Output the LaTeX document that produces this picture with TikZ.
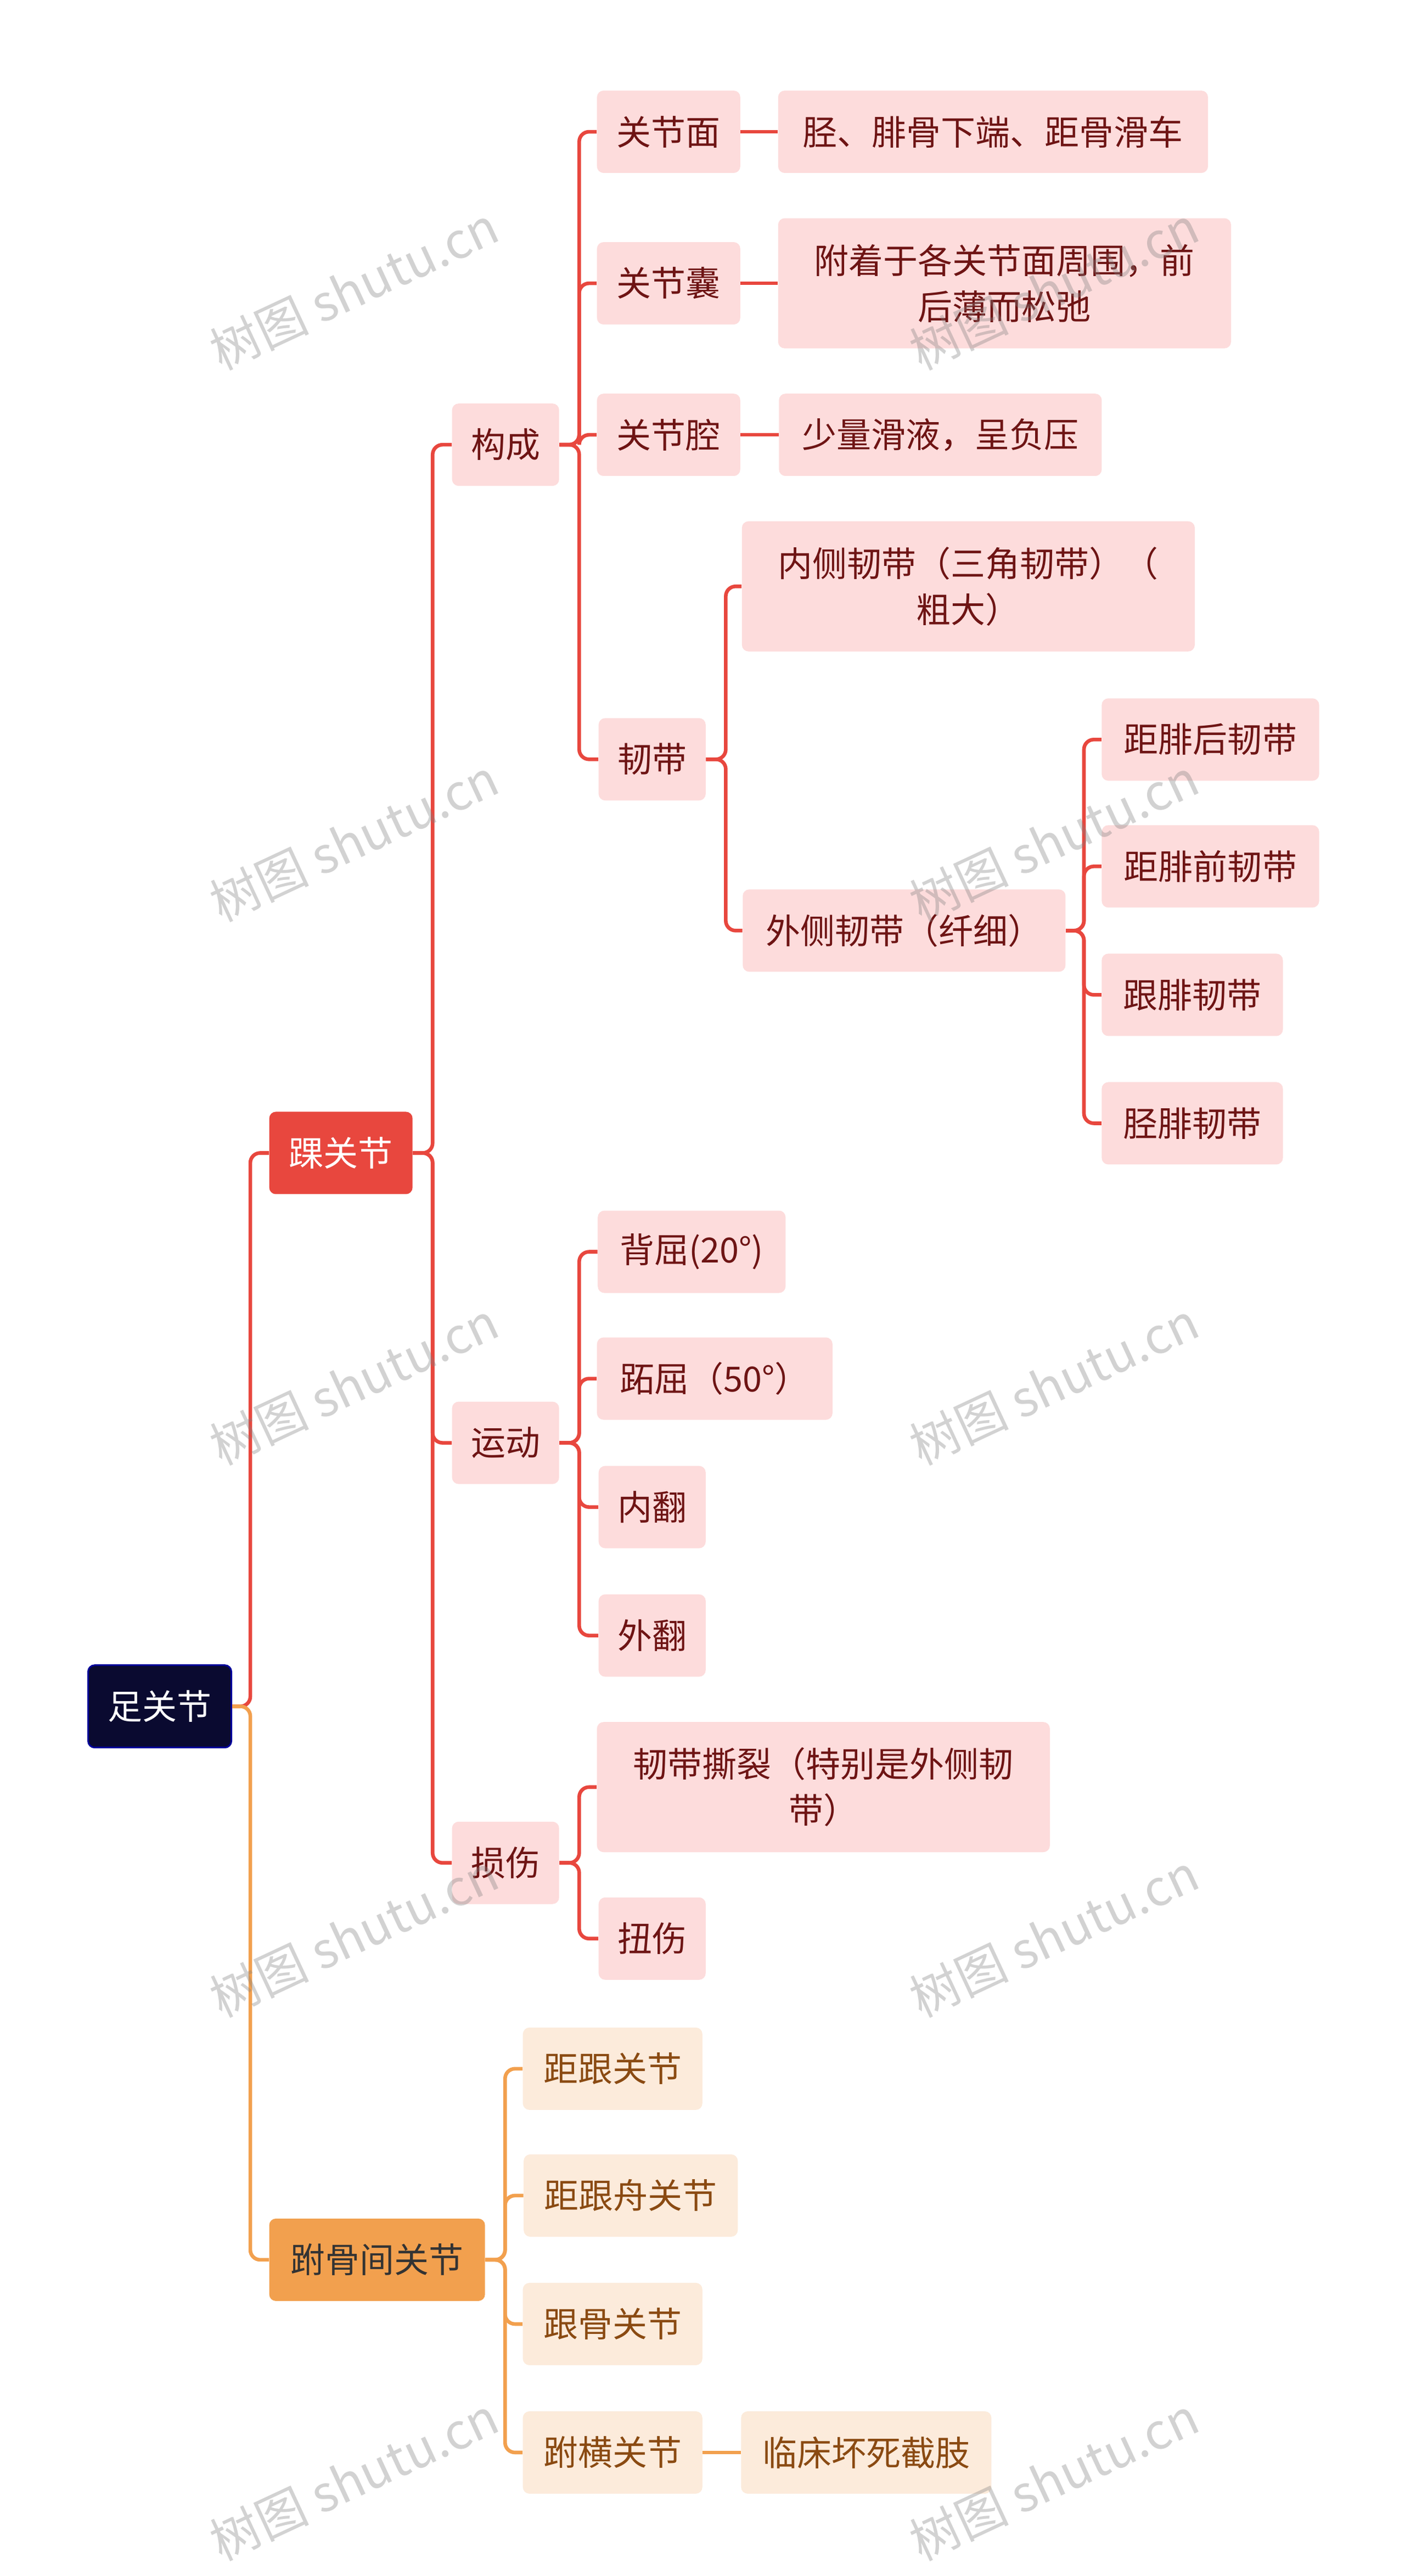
\documentclass[tikz,border=0pt]{standalone}
\usepackage{fontspec}
\setmainfont{Noto Sans CJK SC}
\begin{document}
\begin{tikzpicture}[x=1pt,y=-1pt,
 bx/.style={rounded corners=4pt,minimum height=50pt,inner sep=0pt,font=\fontsize{21}{28}\selectfont,align=center},
 lv/.style={bx,fill=pinkf,text=redt},
 lo/.style={bx,fill=orgf,text=brownt},
 rl/.style={draw=redl,line width=2.2pt,rounded corners=6pt},
 ol/.style={draw=orgl,line width=2.2pt,rounded corners=6pt},
 wm/.style={text=gray,text opacity=0.35,rotate=25,font=\fontsize{30}{30}\selectfont}]
\definecolor{pinkf}{HTML}{FDDCDC}\definecolor{redt}{HTML}{6E1414}
\definecolor{orgf}{HTML}{FCEBDB}\definecolor{brownt}{HTML}{8A4A12}
\definecolor{redl}{HTML}{E8473E}\definecolor{orgl}{HTML}{F2A04E}
\definecolor{navy}{HTML}{0A0A30}
\useasboundingbox[fill=white] (0,0) rectangle (853,1564);
\node[bx,fill=navy,draw=blue!60!black,line width=1pt,minimum width=87pt,text=white] (r) at (97,1036) {足关节};
\node[bx,fill=redl,minimum width=87pt,text=white] (a) at (207,700) {踝关节};
\node[bx,fill=orgl,minimum width=131pt,text=black!80] (b) at (229,1372) {跗骨间关节};
\node[lv,minimum width=65pt] (a1) at (307,270) {构成};
\node[lv,minimum width=65pt] (a2) at (307,876) {运动};
\node[lv,minimum width=65pt] (a3) at (307,1131) {损伤};
\node[lv,minimum width=87pt] (c1) at (406,80) {关节面};
\node[lv,minimum width=261pt] (c1a) at (603,80) {胫、腓骨下端、距骨滑车};
\node[lv,minimum width=87pt] (c2) at (406,172) {关节囊};
\node[lv,minimum width=275pt,minimum height=79pt,text width=255pt] (c2a) at (610,172) {附着于各关节面周围，前\\后薄而松弛};
\node[lv,minimum width=87pt] (c3) at (406,264) {关节腔};
\node[lv,minimum width=196pt] (c3a) at (571,264) {少量滑液，呈负压};
\node[lv,minimum width=65pt] (c4) at (396,461) {韧带};
\node[lv,minimum width=275pt,minimum height=79pt,text width=255pt] (d1) at (588,356) {内侧韧带（三角韧带）（\\粗大）};
\node[lv,minimum width=196pt] (d2) at (549,565) {外侧韧带（纤细）};
\node[lv,minimum width=132pt] (e1) at (735,449) {距腓后韧带};
\node[lv,minimum width=132pt] (e2) at (735,526) {距腓前韧带};
\node[lv,minimum width=110pt] (e3) at (724,604) {跟腓韧带};
\node[lv,minimum width=110pt] (e4) at (724,682) {胫腓韧带};
\node[lv,minimum width=114pt] (m1) at (420,760) {背屈(20°)};
\node[lv,minimum width=143pt] (m2) at (434,837) {跖屈（50°）};
\node[lv,minimum width=65pt] (m3) at (396,915) {内翻};
\node[lv,minimum width=65pt] (m4) at (396,993) {外翻};
\node[lv,minimum width=275pt,minimum height=79pt,text width=255pt] (s1) at (500,1085) {韧带撕裂（特别是外侧韧\\带）};
\node[lv,minimum width=65pt] (s2) at (396,1177) {扭伤};
\node[lo,minimum width=109pt] (f1) at (372,1256) {距跟关节};
\node[lo,minimum width=130pt] (f2) at (383,1333) {距跟舟关节};
\node[lo,minimum width=109pt] (f3) at (372,1411) {跟骨关节};
\node[lo,minimum width=109pt] (f4) at (372,1489) {跗横关节};
\node[lo,minimum width=152pt] (f4a) at (526,1489) {临床坏死截肢};
\draw[rl] (r.east) -- ++(11,0) |- (a.west);
\draw[ol] (r.east) -- ++(11,0) |- (b.west);
\foreach \c in {a1,a2,a3} \draw[rl] (a.east) -- ++(12,0) |- (\c.west);
\foreach \c in {c1,c2,c3,c4} \draw[rl] (a1.east) -- ++(12,0) |- (\c.west);
\draw[rl] (c1.east) -- (c1a.west);
\draw[rl] (c2.east) -- (c2a.west);
\draw[rl] (c3.east) -- (c3a.west);
\foreach \c in {d1,d2} \draw[rl] (c4.east) -- ++(12,0) |- (\c.west);
\foreach \c in {e1,e2,e3,e4} \draw[rl] (d2.east) -- ++(11,0) |- (\c.west);
\foreach \c in {m1,m2,m3,m4} \draw[rl] (a2.east) -- ++(12,0) |- (\c.west);
\foreach \c in {s1,s2} \draw[rl] (a3.east) -- ++(12,0) |- (\c.west);
\foreach \c in {f1,f2,f3,f4} \draw[ol] (b.east) -- ++(12,0) |- (\c.west);
\draw[ol] (f4.east) -- (f4a.west);
\foreach \x in {215,640}\foreach \y in {175,510,840,1175,1505}
 \node[wm] at (\x,\y) {树图 shutu.cn};
\end{tikzpicture}
\end{document}
